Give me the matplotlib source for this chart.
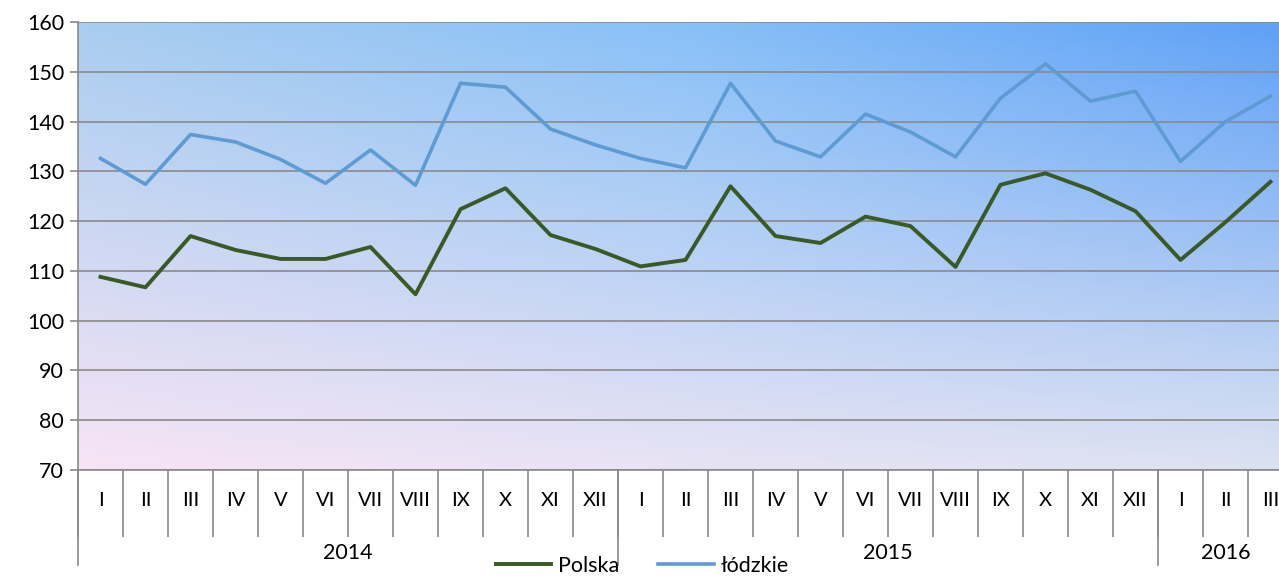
import matplotlib
matplotlib.use('Agg')
import matplotlib.pyplot as plt
import numpy as np
from matplotlib.lines import Line2D

'''Dynamika - Polska vs lodzkie, 2014-2016'''

months = ['I', 'II', 'III', 'IV', 'V', 'VI', 'VII', 'VIII', 'IX', 'X', 'XI', 'XII',
          'I', 'II', 'III', 'IV', 'V', 'VI', 'VII', 'VIII', 'IX', 'X', 'XI', 'XII',
          'I', 'II', 'III']
years = ['2014', '2015', '2016']
year_len = [12, 12, 3]

polska = [108.8, 106.7, 117.0, 114.2, 112.4, 112.4, 114.8, 105.3, 122.4, 126.6, 117.2, 114.4,
          110.9, 112.2, 127.0, 117.0, 115.6, 120.9, 119.0, 110.8, 127.3, 129.6, 126.3, 122.0,
          112.2, 119.8, 127.9]
lodzkie = [132.6, 127.4, 137.4, 135.9, 132.4, 127.6, 134.3, 127.2, 147.7, 146.9, 138.5, 135.3,
           132.6, 130.7, 147.7, 136.1, 132.9, 141.5, 137.9, 132.9, 144.7, 151.6, 144.1, 146.1,
           132.0, 140.0, 145.1]

plt.rcParams['font.family'] = ['Lato', 'DejaVu Sans']

fig = plt.figure(figsize=(12.79, 5.78), dpi=100)
# plot area runs past the right edge of the picture (last month is cut off)
ax = fig.add_axes([78/1279, 1-470/578, 1215/1279, (470-22)/578])

# background gradient: pink bottom-left -> blue top-right
top = np.array([[0xa9, 0xcd, 0xf0], [0x88, 0xc0, 0xf7], [0x5e, 0xa0, 0xf7]]) / 255
bot = np.array([[0xf7, 0xe4, 0xf5], [0xe8, 0xe3, 0xf4], [0xdc, 0xe2, 0xf2]]) / 255
nx, ny = 300, 120
u = np.linspace(0, 2, nx)
idx = np.clip(u.astype(int), 0, 1)
f = (u - idx)[:, None]
toprow = top[idx] * (1 - f) + top[idx + 1] * f
botrow = bot[idx] * (1 - f) + bot[idx + 1] * f
v = np.linspace(0, 1, ny)[:, None, None]
grad = toprow[None] * (1 - v) + botrow[None] * v
ax.imshow(grad, extent=[0, 1, 0, 1], transform=ax.transAxes, aspect='auto',
          interpolation='bilinear', zorder=0)

x = np.arange(len(months))
ax.plot(x, polska, color='#3a5a25', lw=2.8, zorder=3, label='Polska')
ax.plot(x, lodzkie, color='#5f9bd3', lw=2.6, zorder=3, label='łódzkie')

ax.set_xlim(-0.5, len(months) - 0.5)
ax.set_ylim(70, 160)
ax.set_yticks(range(70, 161, 10))
ax.yaxis.grid(True, color='#8a8a8a', lw=1.2)
for gl in ax.get_ygridlines():
    gl.set_zorder(1)

ax.tick_params(axis='y', labelsize=15.5, length=6, color='#8a8a8a', width=1.2, pad=4)
ax.set_xticks(x)
ax.set_xticklabels(months, fontsize=14.5)
ax.tick_params(axis='x', length=0, pad=16)
ax.set_xticks(np.arange(-0.5, len(months) - 1, 1.0), minor=True)
ax.tick_params(axis='x', which='minor', length=48, color='#8a8a8a', width=1.2)

for s in ['top', 'right']:
    ax.spines[s].set_visible(False)
for s in ['left', 'bottom']:
    ax.spines[s].set_color('#8a8a8a')
    ax.spines[s].set_linewidth(1.2)

# year level of the category axis
trans = ax.get_xaxis_transform()
start = -0.5
for yr, n in zip(years, year_len):
    ax.text(start + n / 2, -0.185, yr, transform=trans, ha='center', va='center', fontsize=15.5)
    ax.add_line(Line2D([start, start], [0, -95/448], transform=trans, color='#8a8a8a',
                       lw=1.2, clip_on=False))
    start += n

fig.legend(loc='lower center', bbox_to_anchor=(0.502, -0.03), ncol=2, frameon=False,
           fontsize=15.5, handlelength=2.6, columnspacing=1.8, handletextpad=0.3)

fig.savefig('out.png', dpi=100)
